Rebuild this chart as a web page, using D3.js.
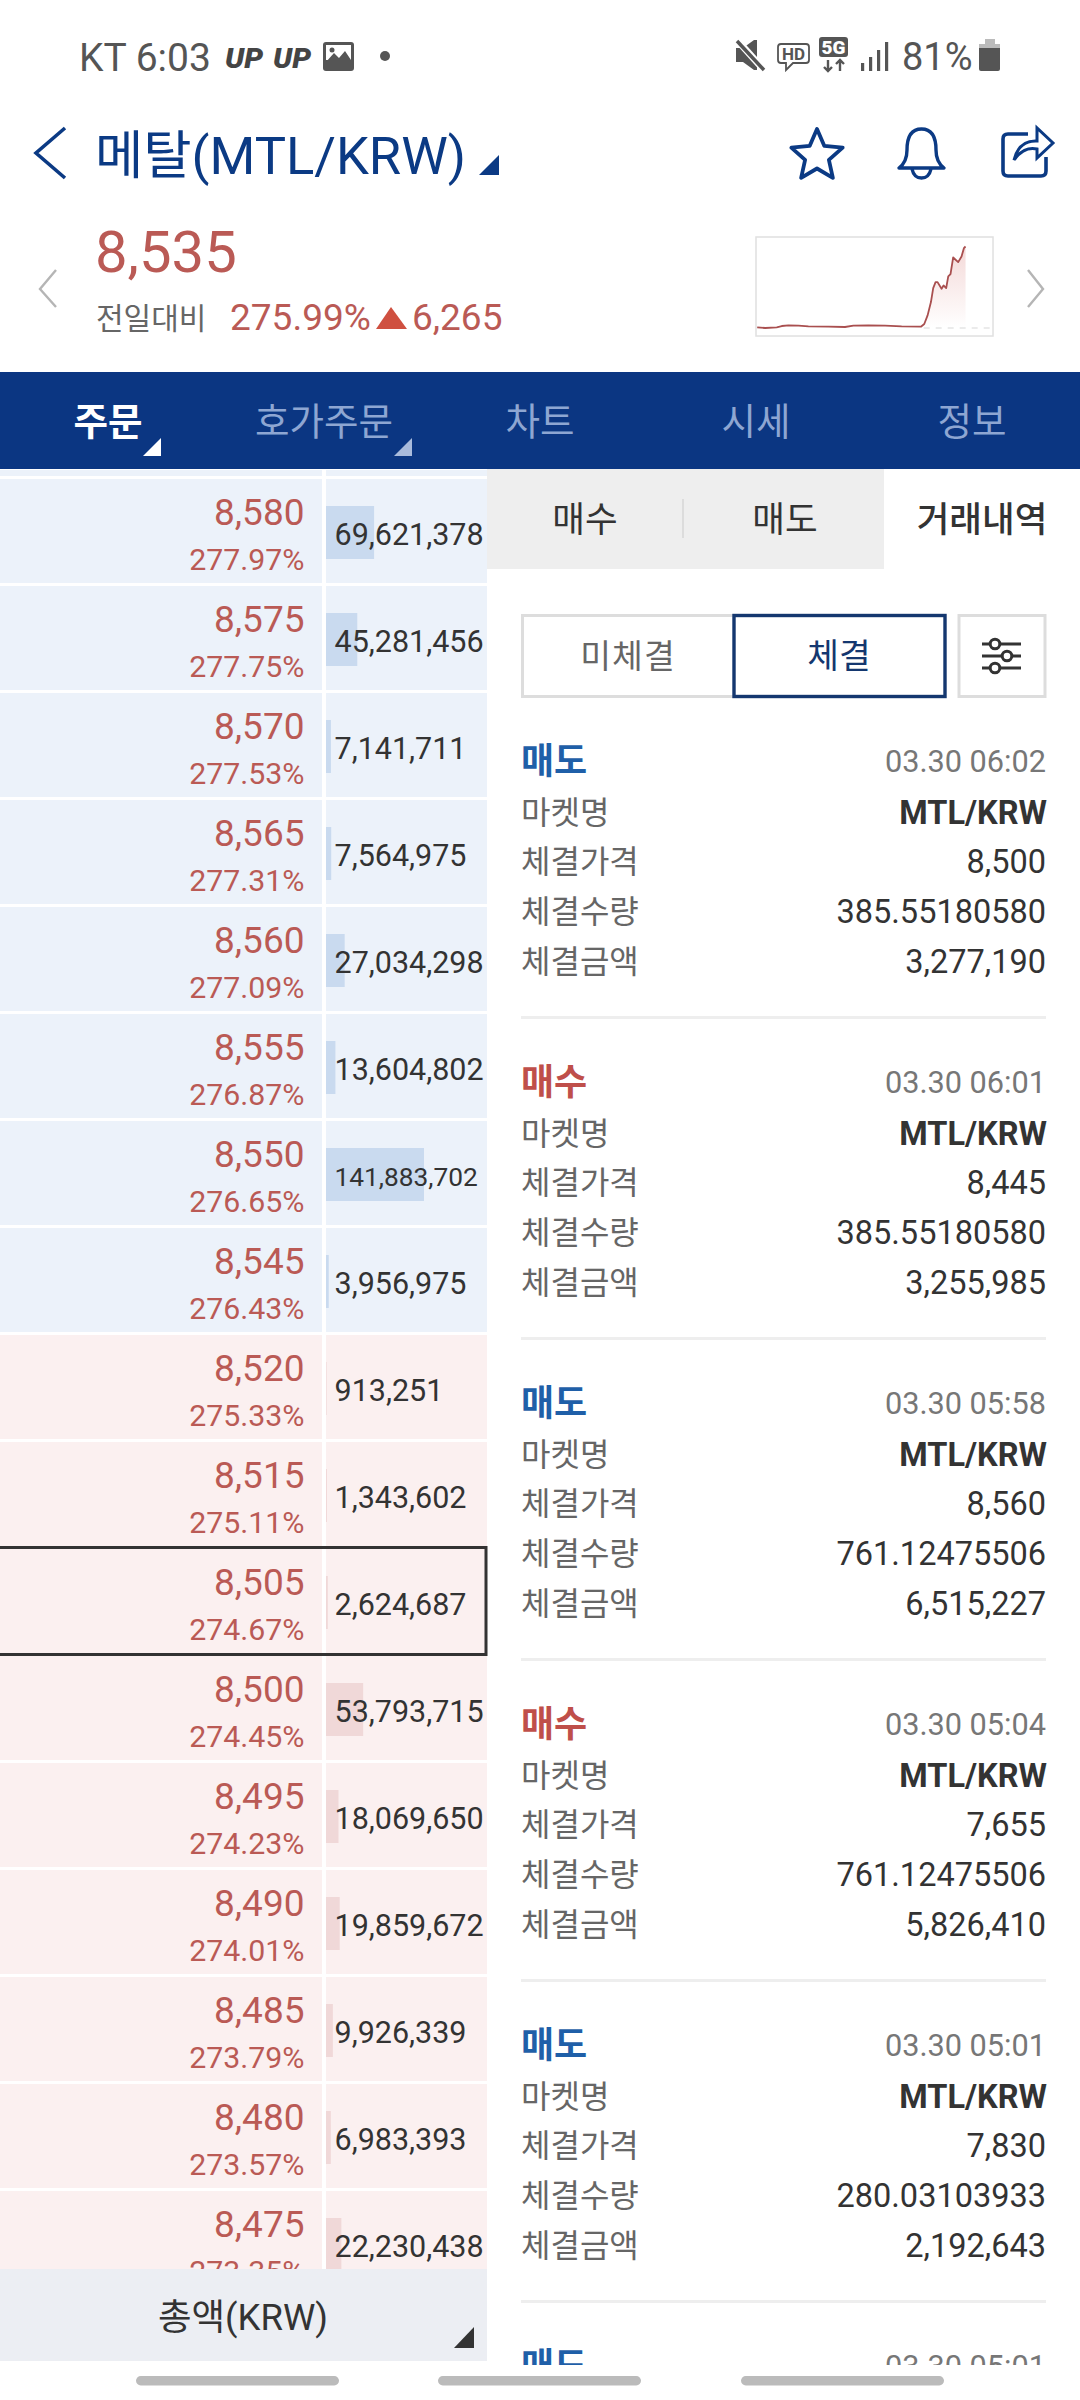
<!DOCTYPE html>
<html lang="ko"><head><meta charset="utf-8">
<script src="https://cdn.jsdelivr.net/npm/d3@7/dist/d3.min.js"></script>
<style>
html,body{margin:0;padding:0;background:#fff}
svg{display:block}
text{font-family:Roboto,"Noto Sans CJK KR",sans-serif}
</style></head><body><svg id="c" width="1080" height="2400" viewBox="0 0 1080 2400"></svg>
<script>
// ---- order book ----
const bookPrices=[8580,8575,8570,8565,8560,8555,8550,8545,8520,8515,8505,8500,8495,8490,8485,8480,8475];
const bookPercents=[277.97,277.75,277.53,277.31,277.09,276.87,276.65,276.43,275.33,275.11,274.67,274.45,274.23,274.01,273.79,273.57,273.35];
const bookVolumes=[69621378,45281456,7141711,7564975,27034298,13604802,141883702,3956975,913251,1343602,2624687,53793715,18069650,19859672,9926339,6983393,22230438];
const askCount=8;
const highlightedPrice=8505;
// ---- trade history ----
const tradeSides=["매도","매수","매도","매수","매도","매도"];
const tradeTimes=["03.30 06:02","03.30 06:01","03.30 05:58","03.30 05:04","03.30 05:01","03.30 05:01"];
const tradePrices=[8500,8445,8560,7655,7830];
const tradeQuantities=["385.55180580","385.55180580","761.12475506","761.12475506","280.03103933"];
const tradeAmounts=[3277190,3255985,6515227,5826410,2192643];
const tradeLabels=["마켓명","체결가격","체결수량","체결금액"];
// ---- sparkline ----
const sparkHours=[0.07,0.88,2.06,2.57,3.25,4.27,5.28,7.31,9.0,9.85,11.37,13.07,14.76,16.72,17.06,17.4,17.74,17.97,18.21,18.41,18.82,19.02,19.29,19.5,19.73,20.0,20.51,20.85,21.09,21.26];
const sparkPrices=[2321,2270,2321,2423,2475,2449,2398,2372,2347,2449,2475,2449,2398,2372,2577,3242,4264,5338,5799,5799,5287,5543,5338,6233,6412,7691,7333,7768,8407,8535];
const sparkBase=2270;
// ---- header / tabs ----
const navLabels=["주문","호가주문","차트","시세","정보"];
const currentPrice=8535, changePct=275.99, changeAbs=6265;

const svg=d3.select("#c");
const fmt=d3.format(",");
const RED="#ba5a55",NAVY="#0b3a84",BAR="#0b3682",INK="#333";
function T(g,x,y,s,size,fill,anchor,weight){
  return g.append("text").attr("x",x).attr("y",y).attr("font-size",size).attr("fill",fill)
   .attr("text-anchor",anchor||"start").attr("font-weight",weight||400).text(s);
}
const defs=svg.append("defs");
const clipR=defs.append("clipPath").attr("id","clipRight");clipR.append("rect").attr("x",487).attr("y",469).attr("width",593).attr("height",1896);
const grad=defs.append("linearGradient").attr("id","sparkFill").attr("gradientUnits","userSpaceOnUse").attr("x1",0).attr("x2",0).attr("y1",246).attr("y2",328);
grad.append("stop").attr("offset",0).attr("stop-color","#d0605c").attr("stop-opacity",.24);
grad.append("stop").attr("offset",1).attr("stop-color","#d0605c").attr("stop-opacity",0);

// ---- status bar ----
const st=svg.append("g");
const GREY="#555";
T(st,79,71,"KT 6:03",39,GREY);
[225,273].forEach(x=>T(st,x,68,"UP",28,"#444","start",900).attr("font-style","italic").attr("textLength",38).attr("lengthAdjust","spacingAndGlyphs"));
st.append("rect").attr("x",323).attr("y",42).attr("width",31).attr("height",29).attr("rx",3).attr("fill",GREY);
st.append("rect").attr("x",326).attr("y",45).attr("width",25).attr("height",15).attr("fill","#fff");
st.append("path").attr("d","M326 62 L334 53 L339 58 L345 51 L351 60 L351 62 Z").attr("fill",GREY);
st.append("circle").attr("cx",332).attr("cy",50).attr("r",2.5).attr("fill",GREY);
st.append("circle").attr("cx",385).attr("cy",56).attr("r",5).attr("fill",GREY);
st.append("path").attr("d","M736 48 L743 48 L754 40 L757 40 L757 70 L754 70 L743 62 L736 62 Z").attr("fill",GREY);
st.append("line").attr("x1",737).attr("y1",40).attr("x2",764).attr("y2",70).attr("stroke","#fff").attr("stroke-width",7);
st.append("line").attr("x1",737).attr("y1",41).attr("x2",764).attr("y2",70).attr("stroke",GREY).attr("stroke-width",3.5);
st.append("path").attr("d","M781 44 H806 Q809 44 809 47 V60 Q809 63 806 63 H793 L786 70 V63 H781 Q778 63 778 60 V47 Q778 44 781 44 Z").attr("fill","none").attr("stroke",GREY).attr("stroke-width",1.8);
T(st,793.5,60,"HD",17,GREY,"middle",700);
st.append("rect").attr("x",819).attr("y",37).attr("width",29).attr("height",20).attr("rx",3).attr("fill",GREY);
T(st,833.5,54,"5G",19,"#fff","middle",900);
st.append("path").attr("d","M828 60 V71 M824 67 L828 71 L832 67 M840 71 V60 M836 64 L840 60 L844 64").attr("fill","none").attr("stroke",GREY).attr("stroke-width",2.4);
[[861,63],[869,57],[877,50],[885,42]].forEach(([x,y])=>st.append("rect").attr("x",x).attr("y",y).attr("width",3.2).attr("height",71-y).attr("fill",GREY));
T(st,902,70,"81%",38,GREY);
st.append("path").attr("d","M985 39 H995 V44 H1000 V48 H979 V44 H985 Z").attr("fill","#bbb");
st.append("path").attr("d","M979 48 H1000 V69 Q1000 71 998 71 H981 Q979 71 979 69 Z").attr("fill",GREY);

// ---- title row ----
const hd=svg.append("g");
hd.append("path").attr("d","M65 128 L36 153 L65 178").attr("fill","none").attr("stroke",NAVY).attr("stroke-width",3.6);
T(hd,95,174,"메탈(MTL/KRW)",52.5,NAVY);
hd.append("path").attr("d","M499 155 V175 H479 Z").attr("fill",NAVY);
const star=d3.range(10).map(i=>{const r=i%2?12.5:27,a=i*Math.PI/5;return [817+r*Math.sin(a),156-r*Math.cos(a)]});
hd.append("path").attr("d",d3.line().curve(d3.curveLinearClosed)(star)).attr("fill","none").attr("stroke",NAVY).attr("stroke-width",3.8).attr("stroke-linejoin","round");
hd.append("path").attr("d","M899 168 Q907 162 907 150 Q907 129 921.5 129 Q936 129 936 150 Q936 162 944 168 Z M912 169 Q914 178 921.5 178 Q929 178 931 169").attr("fill","none").attr("stroke",NAVY).attr("stroke-width",3.4).attr("stroke-linejoin","round");
hd.append("path").attr("d","M1028 134 H1008 Q1003 134 1003 139 V171 Q1003 176 1008 176 H1041 Q1046 176 1046 171 V157").attr("fill","none").attr("stroke",NAVY).attr("stroke-width",3.6);
hd.append("path").attr("d","M1014 160 Q1019 140 1037 141 L1037 128 L1053 143 L1037 158 L1037 149 Q1024 146 1014 160 Z").attr("fill","none").attr("stroke",NAVY).attr("stroke-width",3);

// ---- price summary ----
const pr=svg.append("g");
T(pr,95,272,fmt(currentPrice),58,RED);
T(pr,96,329,"전일대비",30,"#666");
T(pr,230,330,d3.format(".2f")(changePct)+"%",37,RED);
pr.append("path").attr("d","M391 307 L407 329 L376 329 Z").attr("fill","#cf5040");
T(pr,412,330,fmt(changeAbs),37,RED);
pr.append("path").attr("d","M56 270 L40 289 L56 307").attr("fill","none").attr("stroke","#b5b5b5").attr("stroke-width",2.4);
pr.append("path").attr("d","M1028 270 L1043 289 L1028 307").attr("fill","none").attr("stroke","#b5b5b5").attr("stroke-width",2.4);

// ---- sparkline ----
const sp=svg.append("g");
const sx=d3.scaleLinear().domain([0,24]).range([756.5,992.5]);
const sy=d3.scaleLinear().domain([sparkBase,currentPrice]).range([328,246.5]);
sp.append("rect").attr("x",756).attr("y",237).attr("width",237).attr("height",99).attr("fill","#fff").attr("stroke","#e0e0e0").attr("stroke-width",1.5);
const sparkData=sparkHours.map((h,i)=>({h,p:sparkPrices[i]}));
sp.append("path").datum(sparkData).attr("fill","url(#sparkFill)")
  .attr("d",d3.area().x(d=>sx(d.h)).y0(sy(sparkBase)).y1(d=>sy(Math.max(d.p,sparkBase))));
sp.append("line").attr("x1",sx(17)).attr("x2",sx(24)).attr("y1",sy(sparkBase)).attr("y2",sy(sparkBase)).attr("stroke","#d8d8d8").attr("stroke-width",1.2).attr("stroke-dasharray","6 6");
sp.append("path").datum(sparkData).attr("fill","none").attr("stroke","#a94f4f").attr("stroke-width",1.8).attr("stroke-linejoin","round")
  .attr("d",d3.line().x(d=>sx(d.h)).y(d=>sy(d.p)));

// ---- nav bar ----
const nav=svg.append("g");
nav.append("rect").attr("x",0).attr("y",372).attr("width",1080).attr("height",97).attr("fill",BAR);
const navX=d3.scalePoint().domain(navLabels).range([108,972]);
navLabels.forEach((s,i)=>T(nav,navX(s),435,s,37.5,i===0?"#fff":"#8ea6d2","middle",i===0?700:400));
nav.append("path").attr("d","M161 438 V456 H143 Z").attr("fill","#fff");
nav.append("path").attr("d","M412 438 V456 H394 Z").attr("fill","#a9bbdc");

// ---- order book ----
const book=svg.append("g");
const rowY=d3.scaleBand().domain(d3.range(bookPrices.length)).range([479,479+107*bookPrices.length-3]).paddingInner(3/107);
const barW=d3.scaleLinear().domain([0,d3.max(bookVolumes)]).range([0,98]);
// sliver of the row scrolled off above
book.append("rect").attr("x",0).attr("y",470).attr("width",322).attr("height",6).attr("fill","#ecf2fa");
book.append("rect").attr("x",326).attr("y",470).attr("width",161).attr("height",6).attr("fill","#ecf2fa");
const rows=book.selectAll("g.row").data(bookPrices).join("g").attr("class","row")
  .attr("transform",(d,i)=>`translate(0,${rowY(i)})`);
const bw=rowY.bandwidth();
const askBg="#ecf2fa",bidBg="#fbf0f0";
rows.append("rect").attr("x",0).attr("width",322).attr("height",bw).attr("fill",(d,i)=>i<askCount?askBg:bidBg);
rows.append("rect").attr("x",326).attr("width",161).attr("height",bw).attr("fill",(d,i)=>i<askCount?askBg:bidBg);
rows.append("rect").attr("x",326).attr("y",27).attr("height",53).attr("width",(d,i)=>barW(bookVolumes[i])).attr("fill",(d,i)=>i<askCount?"#c9daef":"#f0d8d8");
rows.append("text").attr("x",304.5).attr("y",46).attr("text-anchor","end").attr("font-size",37).attr("fill",RED).text(d=>fmt(d));
rows.append("text").attr("x",304.5).attr("y",91).attr("text-anchor","end").attr("font-size",30.3).attr("fill",RED).text((d,i)=>d3.format(".2f")(bookPercents[i])+"%");
rows.append("text").attr("x",334.5).attr("y",(d,i)=>bookVolumes[i]>=1e8?65:66).attr("font-size",(d,i)=>bookVolumes[i]>=1e8?26.3:30.5).attr("fill",INK).text((d,i)=>fmt(bookVolumes[i]));
const hi=bookPrices.indexOf(highlightedPrice);
book.append("rect").attr("x",-6).attr("y",rowY(hi)-1.5).attr("width",492).attr("height",107).attr("fill","none").attr("stroke","#333").attr("stroke-width",3);

// ---- total bar ----
const tot=svg.append("g");
tot.append("rect").attr("x",0).attr("y",2269).attr("width",487).attr("height",92).attr("fill","#eceef3");
T(tot,243,2330,"총액(KRW)",36.5,INK,"middle");
tot.append("path").attr("d","M474 2327 V2348 H454 Z").attr("fill","#333");

// ---- right panel ----
const rp=svg.append("g").attr("clip-path","url(#clipRight)");
rp.append("rect").attr("x",487).attr("y",469).attr("width",397).attr("height",100).attr("fill","#eeeeee");
rp.append("line").attr("x1",683).attr("x2",683).attr("y1",499).attr("y2",538).attr("stroke","#dcdcdc").attr("stroke-width",2);
T(rp,585,532,"매수",35.5,INK,"middle");
T(rp,785,532,"매도",35.5,INK,"middle");
T(rp,982,532,"거래내역",35.5,INK,"middle",500);
rp.append("rect").attr("x",522.5).attr("y",615.5).attr("width",212).attr("height",81).attr("fill","#fff").attr("stroke","#dddddd").attr("stroke-width",3);
rp.append("rect").attr("x",959).attr("y",615.5).attr("width",86).attr("height",81).attr("fill","#fff").attr("stroke","#dddddd").attr("stroke-width",3);
rp.append("rect").attr("x",734).attr("y",615.5).attr("width",211).attr("height",81).attr("fill","#fff").attr("stroke","#14376f").attr("stroke-width",3.4);
T(rp,628,668,"미체결",33.5,"#666","middle").attr("letter-spacing",1);
T(rp,839,668,"체결",34.5,"#14376f","middle");
[[644,995],[656,1007],[668,995]].forEach(([y,cx])=>{
  rp.append("line").attr("x1",982).attr("x2",1021).attr("y1",y).attr("y2",y).attr("stroke","#333").attr("stroke-width",3);
  rp.append("circle").attr("cx",cx).attr("cy",y).attr("r",4.8).attr("fill","#fff").attr("stroke","#333").attr("stroke-width",3);
});
const tradeY=d3.scaleLinear().domain([0,1]).range([773.5,1094.5]);
const trades=rp.selectAll("g.trade").data(tradeSides).join("g").attr("class","trade").attr("transform",(d,i)=>`translate(0,${tradeY(i)})`);
trades.append("text").attr("x",521).attr("font-size",36).attr("font-weight",700).attr("fill",d=>d==="매도"?"#1f5fa8":"#bf4f4a").text(d=>d);
trades.append("text").attr("x",1046).attr("y",-2).attr("text-anchor","end").attr("font-size",30.7).attr("fill","#777").text((d,i)=>tradeTimes[i]);
const lineY=d3.scalePoint().domain(tradeLabels).range([50,199]);
tradeLabels.forEach(l=>{
  trades.filter((d,i)=>i<tradePrices.length).append("text").attr("x",521).attr("y",lineY(l)).attr("font-size",32).attr("fill","#666").text(l);
});
const live=trades.filter((d,i)=>i<tradePrices.length);
live.append("text").attr("x",1047).attr("y",lineY(tradeLabels[0])).attr("text-anchor","end").attr("font-size",32.5).attr("font-weight",700).attr("fill",INK).text("MTL/KRW");
live.append("text").attr("x",1046).attr("y",lineY(tradeLabels[1])).attr("text-anchor","end").attr("font-size",32.5).attr("fill",INK).text((d,i)=>fmt(tradePrices[i]));
live.append("text").attr("x",1046).attr("y",lineY(tradeLabels[2])).attr("text-anchor","end").attr("font-size",32.5).attr("fill",INK).text((d,i)=>tradeQuantities[i]);
live.append("text").attr("x",1046).attr("y",lineY(tradeLabels[3])).attr("text-anchor","end").attr("font-size",32.5).attr("fill",INK).text((d,i)=>fmt(tradeAmounts[i]));
live.append("line").attr("x1",521).attr("x2",1046).attr("y1",244).attr("y2",244).attr("stroke","#eeeeee").attr("stroke-width",3);

// ---- nav pills ----
const pills=svg.append("g");
[136,438,741].forEach(x=>pills.append("rect").attr("x",x).attr("y",2376).attr("width",203).attr("height",9.5).attr("rx",4.75).attr("fill","#bbbbbb"));
</script></body></html>
